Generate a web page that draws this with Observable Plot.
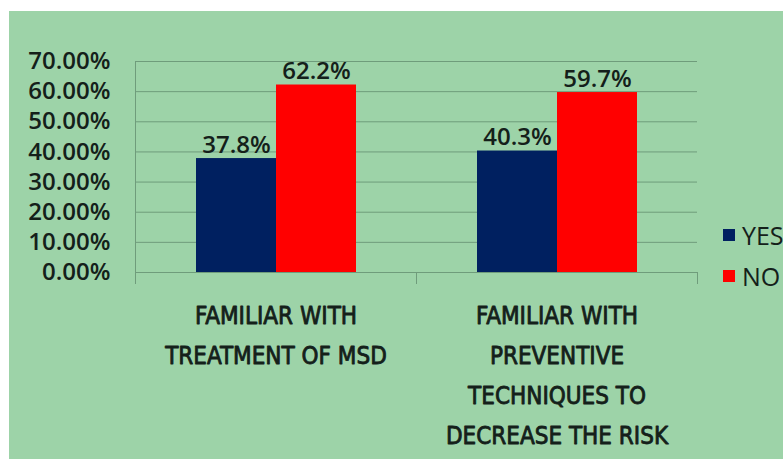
<!DOCTYPE html>
<html>
<head>
<meta charset="utf-8">
<script src="https://cdn.jsdelivr.net/npm/d3@7"></script>
<script src="https://cdn.jsdelivr.net/npm/@observablehq/plot@0.6"></script>
<style>
  html, body { margin: 0; padding: 0; background: #ffffff; width: 783px; height: 459px; overflow: hidden; }
  #bg { position: absolute; left: 9px; top: 11px; width: 774px; height: 448px; background: #9dd3a8; }
  #chart { position: absolute; left: 0; top: 0; }
  #legend { position: absolute; left: 723px; top: 214px; font-family: "Open Sans", sans-serif; font-size: 25px; color: #14201a; white-space: nowrap; }
  .item { display: flex; align-items: center; height: 41px; }
  .sw { width: 12px; height: 12px; margin-right: 7px; }
</style>
</head>
<body>
<div id="bg"></div>
<div id="chart"></div>
<div id="legend"></div>
<script>
const categories = ["FAMILIAR WITH TREATMENT OF MSD", "FAMILIAR WITH PREVENTIVE TECHNIQUES TO DECREASE THE RISK"];
const categoryLabels = ["FAMILIAR WITH\nTREATMENT OF MSD", "FAMILIAR WITH\nPREVENTIVE\nTECHNIQUES TO\nDECREASE THE RISK"];
const series = ["YES", "NO"];
const yesValues = [37.8, 40.3];
const noValues = [62.2, 59.7];
const yTicks = [0, 10, 20, 30, 40, 50, 60, 70];
const seriesColors = ["#002060", "#ff0000"];

const data = categories.flatMap((c, i) => [
  {category: c, answer: "YES", value: yesValues[i]},
  {category: c, answer: "NO", value: noValues[i]}
]);

const gridColor = "#6f9c7b";
const textColor = "#14201a";

const chart = Plot.plot({
  width: 783,
  height: 459,
  marginLeft: 135,
  marginRight: 86,
  marginTop: 61,
  marginBottom: 187,
  style: {background: "transparent", fontFamily: "'Open Sans', sans-serif", color: textColor},
  fx: {domain: categories, padding: 0, axis: null},
  x: {domain: series, paddingInner: 0, paddingOuter: 0.745, axis: null},
  y: {domain: [0, 70], axis: null},
  color: {domain: series, range: seriesColors},
  marks: [
    Plot.gridY(yTicks, {stroke: gridColor, strokeOpacity: 1, strokeWidth: 1}),
    Plot.frame({anchor: "left", facet: "super", stroke: gridColor, insetBottom: -11}),
    Plot.frame({anchor: "right", stroke: gridColor, insetTop: 211, insetBottom: -11}),
    Plot.barY(data, {fx: "category", x: "answer", y: "value", fill: "answer"}),
    Plot.text(data, {
      fx: "category", x: "answer", y: "value",
      text: d => d.value.toFixed(1) + "%",
      lineAnchor: "bottom", dy: -6, fontSize: 24, fontWeight: 600, fill: textColor
    }),
    Plot.axisY(yTicks, {
      anchor: "left", tickSize: 0, tickPadding: 25, label: null,
      tickFormat: d => d.toFixed(2) + "%", fontSize: 24, fontWeight: 600, fill: textColor
    }),
    Plot.axisFx({
      anchor: "bottom", tickSize: 0, tickPadding: 23, label: null,
      tickFormat: d => categoryLabels[categories.indexOf(d)],
      fontSize: 24, lineHeight: 1.667, fill: textColor,
      textStroke: textColor, textStrokeWidth: 0.8, textStrokeOpacity: 1,
      fontFamily: "'Liberation Sans Narrow', 'DejaVu Sans Condensed', sans-serif"
    })
  ]
});
document.getElementById("chart").appendChild(chart);

const legend = document.getElementById("legend");
series.forEach((s, i) => {
  const item = document.createElement("div");
  item.className = "item";
  const sw = document.createElement("span");
  sw.className = "sw";
  sw.style.background = seriesColors[i];
  const label = document.createElement("span");
  label.textContent = s;
  item.appendChild(sw);
  item.appendChild(label);
  legend.appendChild(item);
});
</script>
</body>
</html>
